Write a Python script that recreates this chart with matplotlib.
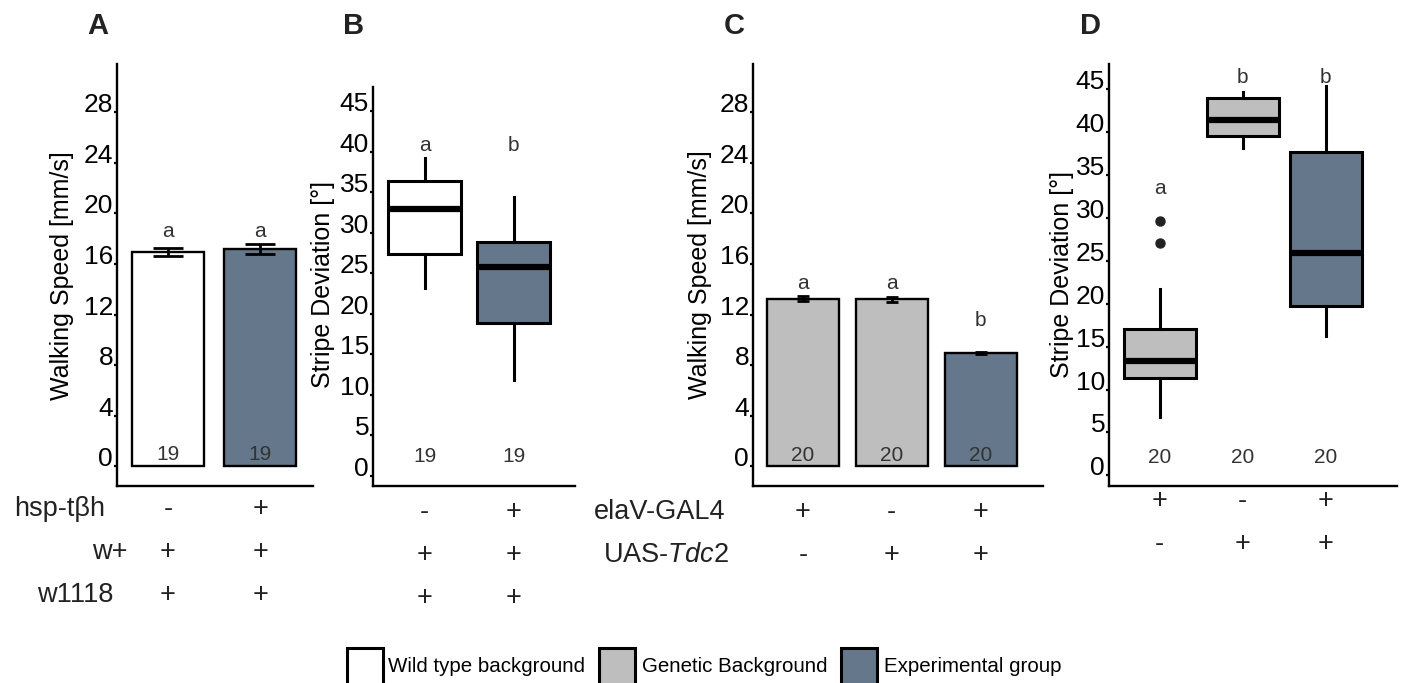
import matplotlib
matplotlib.use("Agg")
import matplotlib.pyplot as plt
from matplotlib import transforms
from matplotlib.patches import Rectangle

plt.rcParams['font.family'] = ['Liberation Sans', 'DejaVu Sans']
plt.rcParams['mathtext.fontset'] = 'custom'
plt.rcParams['mathtext.rm'] = 'Liberation Sans'
plt.rcParams['mathtext.it'] = 'Liberation Sans:italic'

# ---------------- data ----------------
# Panel A: walking speed, hsp-tbh
a_speed = [16.96, 17.18]
a_sem = [0.31, 0.43]
a_n = ["19", "19"]
a_letters = ["a", "a"]
a_letter_y = [18.6, 18.6]
a_rows = ["hsp-tβh", "w+", "w1118"]
a_geno = [["-", "+"], ["+", "+"], ["+", "+"]]

# Panel B: stripe deviation, hsp-tbh
b_q1 = [27.35, 18.85]
b_med = [32.9, 25.85]
b_q3 = [36.35, 28.85]
b_lo = [23.2, 11.85]
b_hi = [39.3, 34.45]
b_n = ["19", "19"]
b_letters = ["a", "b"]
b_letter_y = [40.75, 40.75]
b_geno = [["-", "+"], ["+", "+"], ["+", "+"]]

# Panel C: walking speed, elaV-GAL4 x UAS-Tdc2
c_speed = [13.24, 13.22, 8.96]
c_sem = [0.2, 0.2, 0.07]
c_n = ["20", "20", "20"]
c_letters = ["a", "a", "b"]
c_letter_y = [14.47, 14.47, 11.5]
c_rows = ["elaV-GAL4", "UAS-$\\mathit{Tdc2}$"]
c_geno = [["+", "-", "+"], ["-", "+", "+"]]

# Panel D: stripe deviation, elaV-GAL4 x UAS-Tdc2
d_q1 = [11.29, 39.59, 19.74]
d_med = [13.29, 41.39, 25.89]
d_q3 = [17.03, 43.99, 37.69]
d_lo = [6.82, 38.19, 16.19]
d_hi = [21.69, 44.69, 45.39]
d_fliers = [[29.59, 27.09], [], []]
d_n = ["20", "20", "20"]
d_letters = ["a", "b", "b"]
d_letter_y = [33.49, 46.39, 46.39]
d_geno = [["+", "-", "+"], ["-", "+", "+"]]

legend_labels = ["Wild type background", "Genetic Background", "Experimental group"]

speed_ticks = [0, 4, 8, 12, 16, 20, 24, 28]
dev_ticks = [0, 5, 10, 15, 20, 25, 30, 35, 40, 45]

# ---------------- style ----------------
WHITE, GREY, SLATE = "#ffffff", "#bebebe", "#65778a"
TXT = "#222222"
ANN = "#333333"
W, H = 1402, 683
FS_TICK = 19
FS_LAB = 18
FS_GENO = 19.5
FS_ANN = 15
FS_LEG = 14.8
SPEED_LIM = (-1.55, 31.8)
DEV_LIM = (-1.25, 47.95)

fig = plt.figure(figsize=(W / 100, H / 100), dpi=100)


def px_axes(l, r, t, b):
    return fig.add_axes([l / W, 1 - b / H, (r - l) / W, (b - t) / H])


def style(ax, ticks, ylim, xlim):
    for s in ("top", "right"):
        ax.spines[s].set_visible(False)
    for s in ("left", "bottom"):
        ax.spines[s].set_linewidth(1.7)
    ax.set_ylim(*ylim)
    ax.set_xlim(*xlim)
    ax.set_yticks(ticks)
    ax.set_yticklabels([str(t) for t in ticks])
    ax.tick_params(axis="y", direction="out", length=2.5, width=1.6, pad=0.3,
                   labelsize=FS_TICK, colors="black")
    for lab in ax.get_yticklabels():
        lab.set_verticalalignment("baseline")
    ax.set_xticks([])


def ylab(x, y, text):
    fig.text(x / W, 1 - y / H, text, rotation=90, ha="center", va="center",
             fontsize=FS_LAB, color="black")


def geno(ax, rows_y, table):
    tr = transforms.blended_transform_factory(ax.transData, fig.transFigure)
    for ry, row in zip(rows_y, table):
        for i, s in enumerate(row):
            ax.text(i, 1 - ry / H, s, transform=tr, ha="center", va="center",
                    fontsize=FS_GENO, color=TXT, clip_on=False)


def bar_panel(ax, vals, errs, colors, width, capsize, ns, letters, letter_y, n_y):
    x = list(range(len(vals)))
    ax.bar(x, vals, width=width, color=colors, edgecolor="black", linewidth=1.7,
           yerr=errs, capsize=capsize,
           error_kw=dict(ecolor="black", elinewidth=2.0, capthick=2.0), zorder=2)
    for i in x:
        ax.text(i, n_y, ns[i], ha="center", va="center", fontsize=FS_ANN, color=ANN, zorder=3)
        ax.text(i, letter_y[i], letters[i], ha="center", va="center", fontsize=FS_ANN, color=ANN)


def box_panel(ax, q1, med, q3, lo, hi, fliers, colors, width, ns, letters, letter_y, n_y):
    stats = []
    for i in range(len(med)):
        stats.append(dict(q1=q1[i], med=med[i], q3=q3[i], whislo=lo[i], whishi=hi[i],
                          fliers=fliers[i] if fliers else []))
    pos = list(range(len(med)))
    bp = ax.bxp(stats, positions=pos, widths=width, showcaps=False, patch_artist=True,
                boxprops=dict(linewidth=2.2, edgecolor="black"),
                whiskerprops=dict(linewidth=2.2, color="black"),
                medianprops=dict(linewidth=4.5, color="black", solid_capstyle="butt"),
                flierprops=dict(marker="o", markerfacecolor="#222222", markeredgecolor="#222222",
                                markersize=6.5))
    for patch, c in zip(bp["boxes"], colors):
        patch.set_facecolor(c)
    for i in pos:
        ax.text(i, n_y, ns[i], ha="center", va="center", fontsize=FS_ANN, color=ANN)
        ax.text(i, letter_y[i], letters[i], ha="center", va="center", fontsize=FS_ANN, color=ANN)


# ---------------- Panel A ----------------
axA = px_axes(117, 313, 64, 486)
bar_panel(axA, a_speed, a_sem, [WHITE, SLATE], 0.78, 11, a_n, a_letters, a_letter_y, 0.9)
style(axA, speed_ticks, SPEED_LIM, (-0.55, 1.57))
ylab(62, 276, "Walking Speed [mm/s]")
geno(axA, [509, 552, 595], a_geno)
for lbl, x, y in zip(a_rows, [105, 128, 113], [509, 552, 595]):
    fig.text(x / W, 1 - y / H, lbl, ha="right", va="center", fontsize=FS_GENO, color=TXT)

# ---------------- Panel B ----------------
axB = px_axes(373, 575, 87.5, 486)
box_panel(axB, b_q1, b_med, b_q3, b_lo, b_hi, None, [WHITE, SLATE], 0.82,
          b_n, b_letters, b_letter_y, 2.45)
style(axB, dev_ticks, DEV_LIM, (-0.58, 1.69))
ylab(323, 284, "Stripe Deviation [°]")
geno(axB, [512, 555, 598], b_geno)

# ---------------- Panel C ----------------
axC = px_axes(753, 1043, 64, 486)
bar_panel(axC, c_speed, c_sem, [GREY, GREY, SLATE], 0.81, 4, c_n, c_letters, c_letter_y, 0.84)
style(axC, speed_ticks, SPEED_LIM, (-0.56, 2.70))
ylab(700, 275, "Walking Speed [mm/s]")
geno(axC, [512, 555], c_geno)
for lbl, x, y in zip(c_rows, [725, 729], [512, 555]):
    fig.text(x / W, 1 - y / H, lbl, ha="right", va="center", fontsize=FS_GENO, color=TXT)

# ---------------- Panel D ----------------
axD = px_axes(1109, 1397, 64, 486)
box_panel(axD, d_q1, d_med, d_q3, d_lo, d_hi, d_fliers, [GREY, GREY, SLATE], 0.87,
          d_n, d_letters, d_letter_y, 2.04)
style(axD, dev_ticks, DEV_LIM, (-0.61, 2.86))
ylab(1062, 274, "Stripe Deviation [°]")
geno(axD, [501, 544], d_geno)

# ---------------- panel letters ----------------
for lbl, x in zip(["A", "B", "C", "D"], [98, 354, 734, 1090]):
    fig.text(x / W, 1 - 26 / H, lbl, ha="center", va="center", fontsize=21,
             fontweight="bold", color=TXT)

# ---------------- legend ----------------
for lbl, c, bx, tx in zip(legend_labels, [WHITE, GREY, SLATE], [347, 599, 841], [388, 642, 884]):
    fig.patches.append(Rectangle((bx / W, 1 - 700 / H), 36 / W, 52 / H, transform=fig.transFigure,
                                 facecolor=c, edgecolor="black", linewidth=2.2, figure=fig))
    fig.text(tx / W, 1 - 667 / H, lbl, ha="left", va="center", fontsize=FS_LEG, color="black")

fig.savefig("out.png", dpi=100)
